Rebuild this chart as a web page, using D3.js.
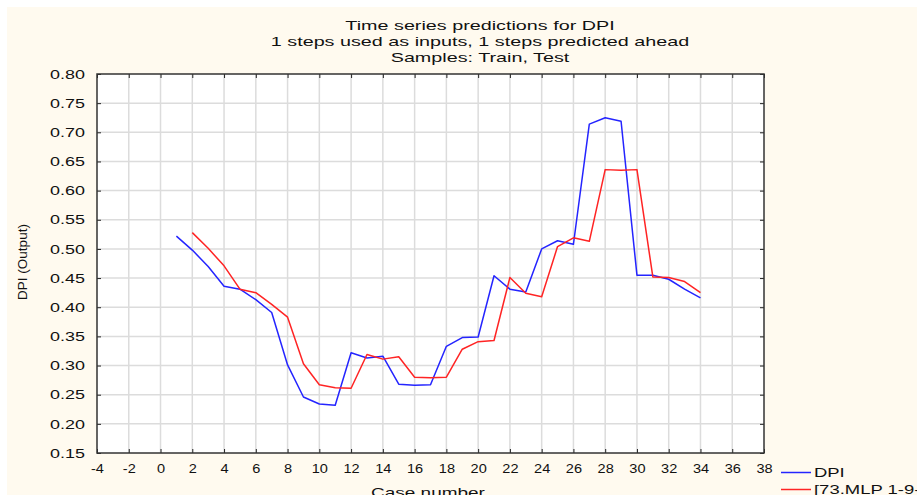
<!DOCTYPE html>
<html>
<head>
<meta charset="utf-8">
<script src="https://cdn.jsdelivr.net/npm/d3@7/dist/d3.min.js"></script>
<style>
  html, body { margin: 0; padding: 0; background: #fff; overflow: hidden; }
  svg text { font-family: "Liberation Sans", Arial, sans-serif; fill: #111; }
</style>
</head>
<body>
<svg id="chart" width="917" height="495"></svg>
<script>
// values
var titleLines = ['Time series predictions for DPI', '1 steps used as inputs, 1 steps predicted ahead', 'Samples: Train, Test'];
var xTicks = d3.range(-4, 39, 2);
var yTicks = [0.15, 0.20, 0.25, 0.30, 0.35, 0.40, 0.45, 0.50, 0.55, 0.60, 0.65, 0.70, 0.75, 0.80];

var dpiCases = d3.range(1, 35);
var dpiValues = [0.522, 0.498, 0.470, 0.436, 0.431, 0.413, 0.391, 0.301, 0.246, 0.234, 0.232, 0.322,
    0.313, 0.316, 0.268, 0.266, 0.267, 0.333, 0.348, 0.349, 0.454, 0.431, 0.426, 0.500, 0.514, 0.508,
    0.714, 0.725, 0.719, 0.455, 0.455, 0.448, 0.431, 0.416];

var mlpCases = d3.range(2, 35);
var mlpValues = [0.528, 0.501, 0.471, 0.431, 0.425, 0.405, 0.383, 0.303, 0.267, 0.262, 0.261, 0.319,
    0.311, 0.315, 0.280, 0.279, 0.280, 0.328, 0.341, 0.343, 0.451, 0.424, 0.418, 0.504, 0.519, 0.513,
    0.636, 0.635, 0.636, 0.452, 0.451, 0.444, 0.425];

var seriesNames = ['DPI', '[73.MLP 1-9-1]'];
var seriesColors = ['#2424ff', '#ff2424'];

(function() {
    var svg = d3.select('#chart');
    var pl = 97, pr = 764, pt = 74, pb = 453;

    // the source picture is stretched sideways, so most text is too
    function wideText(parent, tx, ty, str, sx, anchor) {
        return parent.append('text')
            .attr('transform', 'translate(' + tx + ',' + ty + ') scale(' + sx + ',1)')
            .attr('text-anchor', anchor || 'start')
            .attr('font-size', 13)
            .text(str);
    }

    // cream page with a thin white margin at top and left
    svg.append('rect').attr('x', 7).attr('y', 7).attr('width', 910).attr('height', 488).attr('fill', '#fffaef');

    var x = d3.scaleLinear().domain([-4, 38]).range([pl, pr]);
    var y = d3.scaleLinear().domain([0.15, 0.80]).range([pb, pt]);

    svg.append('rect')
        .attr('x', pl).attr('y', pt)
        .attr('width', pr - pl).attr('height', pb - pt)
        .attr('fill', '#fff');

    // grid
    var grid = svg.append('g').attr('stroke', '#dcdcdc').attr('stroke-width', 1.5);
    grid.selectAll('.gx').data(xTicks.slice(1, -1)).enter().append('line')
        .attr('x1', function(d) { return x(d); }).attr('x2', function(d) { return x(d); })
        .attr('y1', pt).attr('y2', pb);
    grid.selectAll('.gy').data(yTicks.slice(1, -1)).enter().append('line')
        .attr('y1', function(d) { return y(d); }).attr('y2', function(d) { return y(d); })
        .attr('x1', pl).attr('x2', pr);

    // axes with inward ticks
    var bottomAxis = d3.axisBottom(x).tickValues(xTicks).tickSize(-4).tickPadding(11)
        .tickFormat(function(d) { return String(d); });
    var topAxis = d3.axisTop(x).tickValues(xTicks).tickSize(-4).tickFormat('');
    var leftAxis = d3.axisLeft(y).tickValues(yTicks).tickSize(-4).tickPadding(12).tickFormat(d3.format('.2f'));
    var rightAxis = d3.axisRight(y).tickValues(yTicks).tickSize(-4).tickFormat('');

    function styleAxis(g, sx) {
        g.select('.domain').remove();
        g.selectAll('.tick line').attr('stroke', '#222');
        g.selectAll('.tick text')
            .attr('font-size', 13)
            .attr('font-family', '"Liberation Sans", Arial, sans-serif').attr('fill', '#111')
            .attr('x', function() { var v = +d3.select(this).attr('x') || 0; return v / sx; })
            .attr('transform', 'scale(' + sx + ',1)');
    }

    svg.append('g').attr('transform', 'translate(0,' + pb + ')').call(bottomAxis).call(styleAxis, 1.12);
    svg.append('g').attr('transform', 'translate(0,' + pt + ')').call(topAxis).call(styleAxis, 1);
    svg.append('g').attr('transform', 'translate(' + pl + ',0)').call(leftAxis).call(styleAxis, 1.38);
    svg.append('g').attr('transform', 'translate(' + pr + ',0)').call(rightAxis).call(styleAxis, 1);

    // frame
    svg.append('rect')
        .attr('x', pl).attr('y', pt)
        .attr('width', pr - pl).attr('height', pb - pt)
        .attr('fill', 'none').attr('stroke', '#333').attr('stroke-width', 1.5);

    // series
    var line = d3.line()
        .x(function(d) { return x(d[0]); })
        .y(function(d) { return y(d[1]); });

    var series = [d3.zip(dpiCases, dpiValues), d3.zip(mlpCases, mlpValues)];
    series.forEach(function(s, i) {
        svg.append('path').datum(s)
            .attr('d', line)
            .attr('fill', 'none')
            .attr('stroke', seriesColors[i])
            .attr('stroke-width', 1.5)
            .attr('stroke-linejoin', 'round');
    });

    // titles
    titleLines.forEach(function(t, i) {
        wideText(svg, 480, 29.5 + i * 16.1, t, 1.52, 'middle');
    });

    wideText(svg, 428, 496.5, 'Case number', 1.46, 'middle');

    svg.append('text')
        .attr('transform', 'translate(27,262) rotate(-90)')
        .attr('text-anchor', 'middle').attr('font-size', 13.5)
        .text('DPI (Output)');

    // legend
    var legend = svg.append('g');
    seriesNames.forEach(function(name, i) {
        var ly = 472.5 + i * 17;
        legend.append('line')
            .attr('x1', 781).attr('x2', 811).attr('y1', ly).attr('y2', ly)
            .attr('stroke', seriesColors[i]).attr('stroke-width', 1.5);
        wideText(legend, 814, ly + 4.5, name, 1.42);
    });
})();
</script>
</body>
</html>
